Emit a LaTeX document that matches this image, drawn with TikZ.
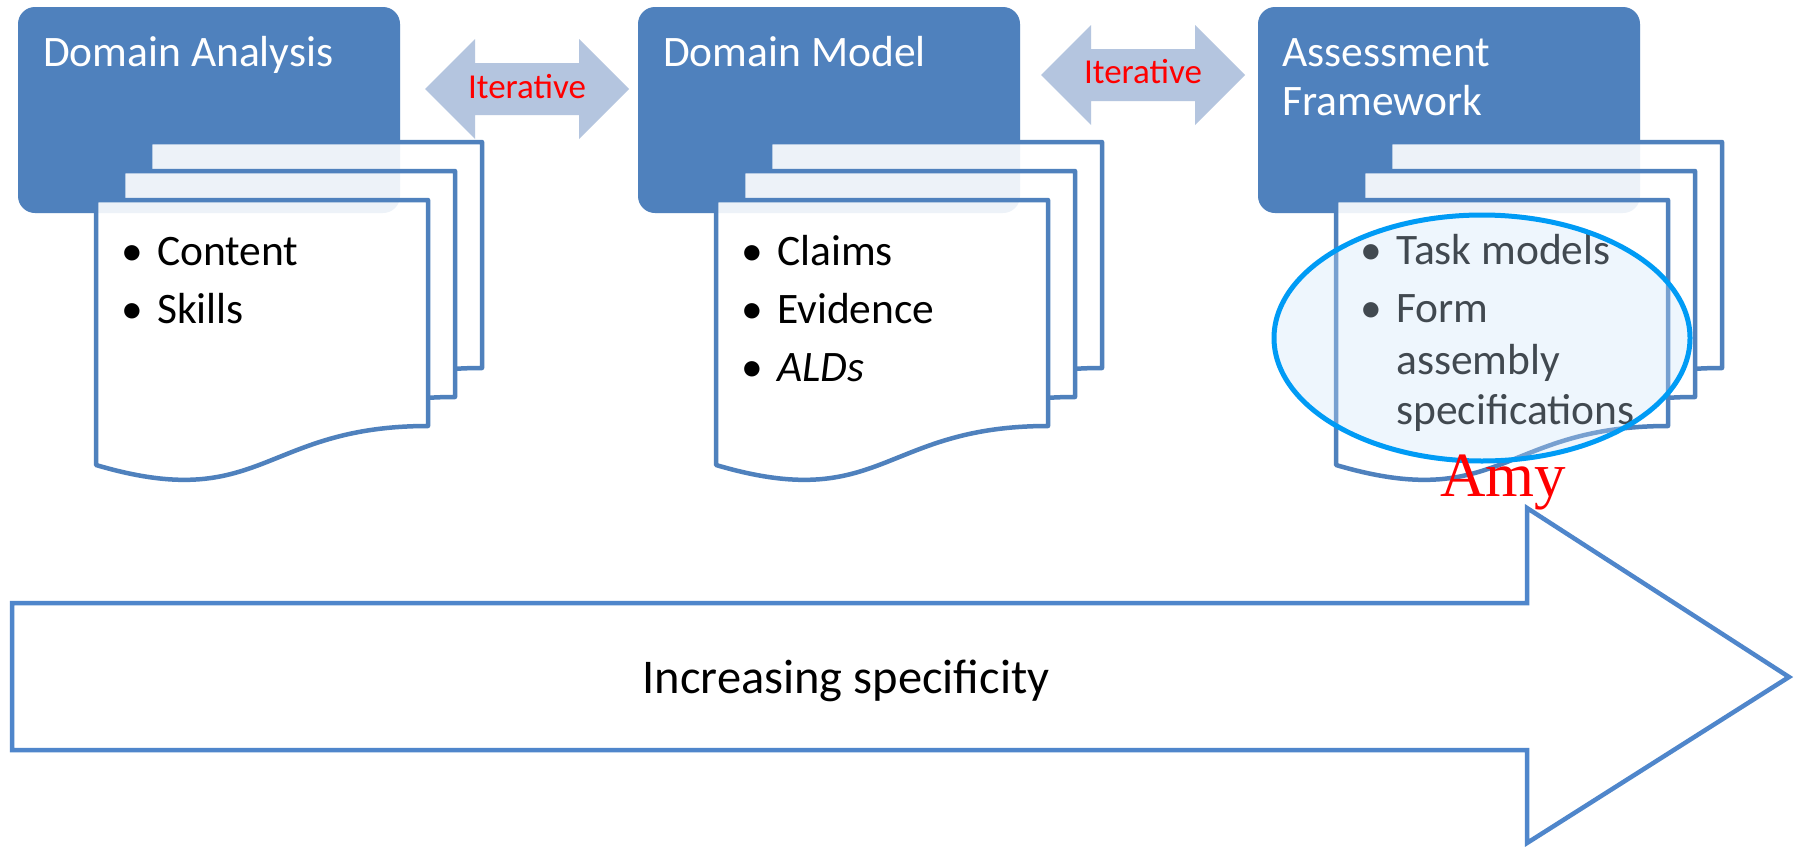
\documentclass[tikz,border=0pt]{standalone}
\usepackage{fontspec}
\setmainfont{Carlito}
\newfontfamily\amyfont{Liberation Serif}
\usetikzlibrary{shapes.geometric}
\definecolor{boxblue}{RGB}{79,129,189}
\definecolor{pageline}{RGB}{79,129,189}
\definecolor{iterfill}{RGB}{180,197,223}
\definecolor{bigline}{RGB}{79,134,203}
\definecolor{ellline}{RGB}{0,155,245}
\definecolor{ellfill}{RGB}{205,228,250}
\newcommand{\bulmark}{\makebox[0pt][r]{\textbullet\hspace{14pt}}}
\begin{document}
\begin{tikzpicture}[x=1pt,y=1pt,
  bluebox/.style={draw=none, fill=boxblue, rounded corners=17pt, minimum width=382pt, minimum height=206pt, anchor=north west, inner sep=0pt, outer sep=0pt},
  boxveil/.style={bluebox, fill opacity=0.1},
  boxtitle/.style={anchor=base west, text=white, inner sep=0pt, font=\fontsize{43.5}{49}\selectfont},
  pagestyle/.style={draw=pageline, line width=4.5pt, fill=white, line join=round},
  itemtext/.style={anchor=base west, inner sep=0pt, text=black, font=\fontsize{43.5}{51}\selectfont},
  iterfillstyle/.style={fill=iterfill, draw=none},
  itertext/.style={anchor=base, text=red, inner sep=0pt, font=\fontsize{35}{40}\selectfont},
  bigarrow/.style={draw=bigline, line width=4.5pt, fill=white, line join=miter},
  bigtext/.style={anchor=base, text=black, inner sep=0pt, font=\fontsize{48.5}{55}\selectfont},
  focus/.style={ellipse, draw=ellline, line width=5pt, fill=ellfill, fill opacity=0.32, draw opacity=1, minimum width=416pt, minimum height=246pt, inner sep=0pt},
  amystyle/.style={anchor=base west, text=red, inner sep=0pt, font=\amyfont\fontsize{63}{70}\selectfont},
  docpage/.pic={\path[pagestyle] (0,0) -- (332,0) -- (332,-226) .. controls (166,-226) and (166,-314) .. (0,-265) -- cycle;},
  dblarrow/.pic={\path[iterfillstyle] (-102,0) -- (-52,50) -- (-52,26) -- (52,26) -- (52,50) -- (102,0) -- (52,-50) -- (52,-26) -- (-52,-26) -- (-52,-50) -- cycle;}
]
\useasboundingbox (0,0) rectangle (1795,-846);
\fill[white] (0,0) rectangle (1795,-846);

% --- blue heading boxes
\node[bluebox] (da) at (18,-7) {};
\node[bluebox] (dm) at (638,-7) {};
\node[bluebox] (af) at (1258,-7) {};

% --- iterative double arrows
\pic at (527,-89) {dblarrow};
\node[itertext] (it1) at (527,-98) {Iterative};
\pic at (1143,-75) {dblarrow};
\node[itertext] (it2) at (1143,-83) {Iterative};

% --- stacked document pages
\pic at (150,-142) {docpage};
\pic at (123,-171) {docpage};
\pic at (96,-200) {docpage};
\pic at (770,-142) {docpage};
\pic at (743,-171) {docpage};
\pic at (716,-200) {docpage};
\pic at (1390,-142) {docpage};
\pic at (1363,-171) {docpage};
\pic at (1336,-200) {docpage};

% --- faint tint of the boxes seen through the pages
\node[boxveil] (daV) at (18,-7) {};
\node[boxveil] (dmV) at (638,-7) {};
\node[boxveil] (afV) at (1258,-7) {};

% --- box titles
\node[boxtitle] (daT) at (43,-66) {Domain Analysis};
\node[boxtitle] (dmT) at (663,-66) {Domain Model};
\node[boxtitle] (afT1) at (1282,-66) {Assessment};
\node[boxtitle] (afT2) at (1282,-115) {Framework};

% --- bullet items
\node[itemtext] (daI1) at (157,-265) {\bulmark Content};
\node[itemtext] (daI2) at (157,-323) {\bulmark Skills};
\node[itemtext] (dmI1) at (777,-265) {\bulmark Claims};
\node[itemtext] (dmI2) at (777,-323) {\bulmark Evidence};
\node[itemtext] (dmI3) at (777,-381) {\bulmark\itshape ALDs};
\node[itemtext] (afI1) at (1396,-264) {\bulmark Task models};
\node[itemtext] (afI2) at (1396,-322) {\bulmark Form};
\node[itemtext] (afI2b) at (1396,-374) {assembly};
\node[itemtext] (afI2c) at (1396,-424) {specifications};

% --- highlight ellipse
\node[focus] (circ) at (1482,-338) {};

% --- increasing specificity arrow
\path[bigarrow] (12,-603) -- (1527,-603) -- (1527,-508) -- (1789,-677) -- (1527,-843) -- (1527,-750) -- (12,-750) -- cycle;
\node[bigtext] (spec) at (846,-693) {Increasing specificity};

% --- annotation
\node[amystyle] (amy) at (1440,-496) {Amy};
\end{tikzpicture}
\end{document}
